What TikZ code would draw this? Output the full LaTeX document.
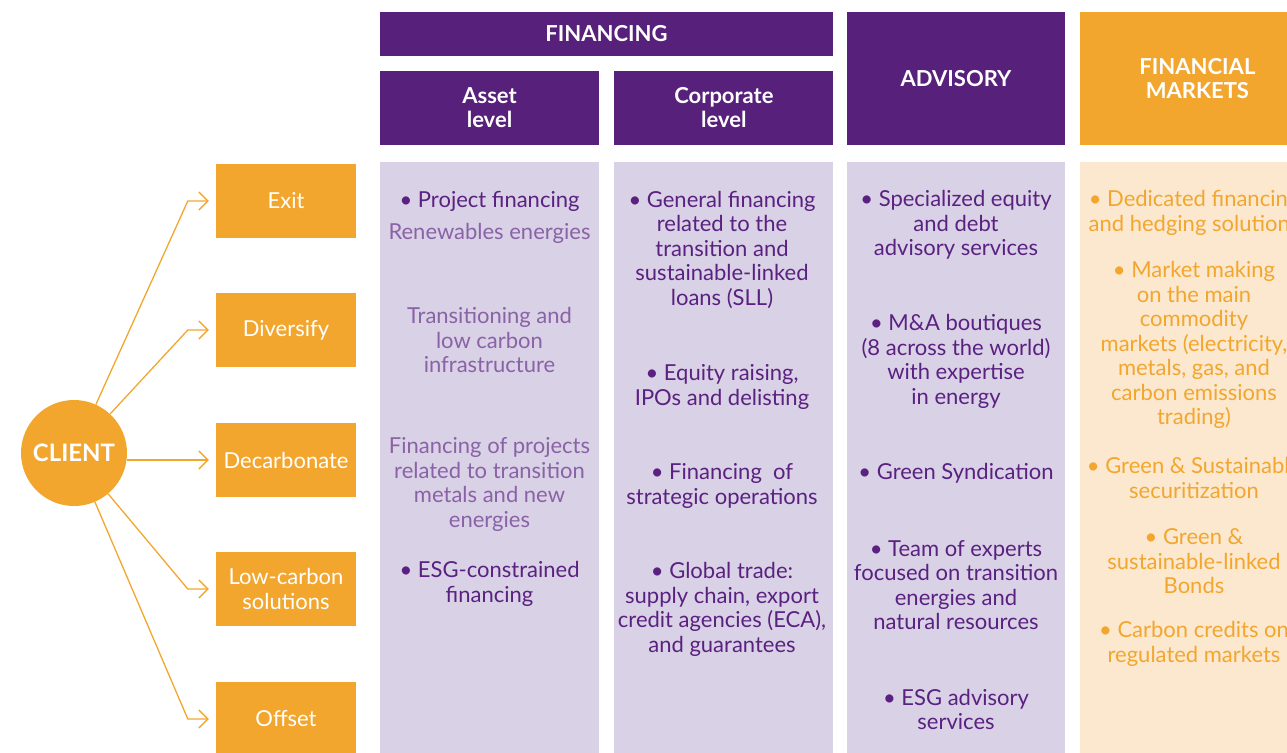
\documentclass[tikz,border=0pt]{standalone}
\usepackage{fontspec}
\setmainfont{Lato}
\usetikzlibrary{arrows.meta,positioning}
\definecolor{plum}{HTML}{57207A}
\definecolor{amber}{HTML}{F3A62E}
\definecolor{lilac}{HTML}{D9D1E6}
\definecolor{peach}{HTML}{FBE8CF}
\definecolor{inkp}{HTML}{5A2180}
\definecolor{inkl}{HTML}{8A62A6}

\begin{document}
\begin{tikzpicture}[x=1pt,y=-1pt,
    every node/.style={inner sep=0pt,align=center,font=\fontsize{22}{24.5}\selectfont}]
  \tikzstyle{head}=[fill=plum,text=white,font=\bfseries\fontsize{22}{24}\selectfont]
  \tikzstyle{goal}=[fill=amber,text=white,minimum width=140pt,minimum height=74pt]
  \tikzstyle{item}=[text=inkp,yshift=-2pt]
  \tikzstyle{soft}=[text=inkl,yshift=-2pt]
  \tikzstyle{mkt}=[text=amber,yshift=-2pt]
  \tikzstyle{link}=[draw=amber,line width=1.3pt,-{Straight Barb[length=9pt,width=18pt]},shorten >=7pt]

  \useasboundingbox (0,0) rectangle (1287,752);

  \fill[lilac] (380,162) rectangle (599,760);
  \fill[lilac] (614,162) rectangle (833,760);
  \fill[lilac] (847,162) rectangle (1065,760);
  \fill[peach] (1080,162) rectangle (1320,760);

  \node[head,minimum width=453pt,minimum height=44pt] (h_fin) at (606.5,34) {FINANCING};
  \node[head,minimum width=219pt,minimum height=74pt] (h_asset) at (489.5,108) {Asset\\level};
  \node[head,minimum width=219pt,minimum height=74pt] (h_corp) [right=15pt of h_asset] {Corporate\\level};
  \node[head,minimum width=218pt,minimum height=133pt] (h_adv) at (956,78.5) {ADVISORY};
  \node[head,fill=amber,minimum width=234pt,minimum height=133pt] (h_mkt) [right=15pt of h_adv] {FINANCIAL\\MARKETS};

  \node[circle,fill=amber,text=white,minimum size=106pt,font=\bfseries\fontsize{24}{26}\selectfont] (client) at (74,453) {CLIENT};

  \node[goal] (g_exit)  at (286,201) {Exit};
  \node[goal] (g_div)   at (286,330) {Diversify};
  \node[goal] (g_decarb) at (286,460) {Decarbonate};
  \node[goal] (g_low)   at (286,589) {Low-carbon\\solutions};
  \node[goal] (g_off)   at (286,719) {Offset};

  \draw[link] (client) -- ([xshift=-28pt]g_exit.west) -- (g_exit);
  \draw[link] (client) -- ([xshift=-28pt]g_div.west) -- (g_div);
  \draw[link] (client.east |- g_decarb) -- (g_decarb);
  \draw[link] (client) -- ([xshift=-28pt]g_low.west) -- (g_low);
  \draw[link] (client) -- ([xshift=-28pt]g_off.west) -- (g_off);

  \node[item] (a_1) at (489.5,199) {• Project financing};
  \node[soft] (a_2) at (489.5,231) {Renewables energies};
  \node[soft] (a_3) at (489.5,338) {Transitioning and\\low carbon\\infrastructure};
  \node[soft] (a_4) at (489.5,482.5) {Financing of projects\\related to transition\\metals and new\\energies};
  \node[item] (a_5) at (489.5,582) {• ESG-constrained\\financing};

  \node[item] (c_1) at (722,248) {• General financing\\related to the\\transition and\\sustainable-linked\\loans (SLL)};
  \node[item] (c_2) at (722,385) {• Equity raising,\\IPOs and delisting};
  \node[item] (c_3) at (722,484) {• Financing\ \ of\\strategic operations};
  \node[item] (c_4) at (722,607.5) {• Global trade:\\supply chain, export\\credit agencies (ECA),\\and guarantees};

  \node[item] (d_1) at (956,223) {• Specialized equity\\and debt\\advisory services};
  \node[item] (d_2) at (956,359.5) {• M\&A boutiques\\(8 across the world)\\with expertise\\in energy};
  \node[item] (d_3) at (956,471) {• Green Syndication};
  \node[item] (d_4) at (956,583) {• Team of experts\\focused on transition\\energies and\\natural resources};
  \node[item] (d_5) at (956,707.5) {• ESG advisory\\services};

  \node[mkt] (f_1) at (1194,211) {• Dedicated financing\\and hedging solutions};
  \node[mkt] (f_2) at (1194,343) {• Market making\\on the main\\commodity\\markets (electricity,\\metals, gas, and\\carbon emissions\\trading)};
  \node[mkt] (f_3) at (1194,476) {• Green \& Sustainable\\securitization};
  \node[mkt] (f_4) at (1194,559.5) {• Green \&\\sustainable-linked\\Bonds};
  \node[mkt] (f_5) at (1194,642) {• Carbon credits on\\regulated markets};
\end{tikzpicture}
\end{document}
